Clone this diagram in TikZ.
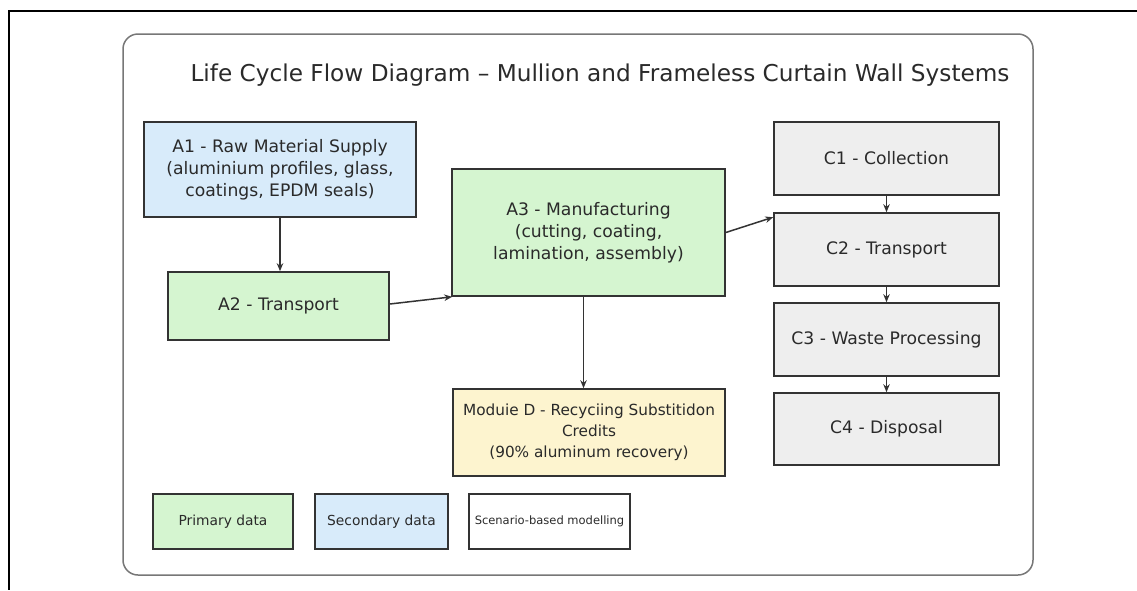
\documentclass[tikz,border=0pt]{standalone}
\usepackage{fontspec}
\setmainfont{DejaVu Sans}
\usetikzlibrary{arrows.meta}
\definecolor{pgreen}{HTML}{D5F5D0}
\definecolor{sblue}{HTML}{D8EBFA}
\definecolor{dyellow}{HTML}{FDF4CF}
\definecolor{cgray}{HTML}{EEEEEE}
\definecolor{edgec}{HTML}{333333}
\definecolor{txt}{HTML}{2A2A2A}
\definecolor{framec}{HTML}{777777}
\begin{document}
\begin{tikzpicture}[x=1pt,y=-1pt,
  box/.style={draw=edgec, line width=1.6pt, rectangle, align=center, inner sep=0pt, text=txt, font=\fontsize{17.2}{22}\selectfont},
  legbox/.style={box, font=\fontsize{13.8}{16}\selectfont},
  arr/.style={draw=edgec, line width=1.5pt, -{Stealth[length=8pt,width=6.5pt]}},
]
\useasboundingbox (0,0) rectangle (1137,590);
\fill[white] (0,0) rectangle (1137,590);
% outer cropped frame
\draw[line width=1.4pt, black] (8,11) -- (1137,11);
\draw[line width=1.4pt, black] (9,11) -- (9,590);
% rounded frame
\draw[framec, line width=1.5pt, rounded corners=15pt] (123,34) rectangle (1033,575);
\node[text=txt, font=\fontsize{23.2}{26}\selectfont, anchor=center] (title) at (600,75) {Life Cycle Flow Diagram -- Mullion and Frameless Curtain Wall Systems};

\node[box, fill=sblue, minimum width=272, minimum height=95] (A1) at (280,169.5) {A1 - Raw Material Supply\\(aluminium profiles, glass,\\coatings, EPDM seals)};
\node[box, fill=pgreen, minimum width=221, minimum height=68] (A2) at (278.5,306) {A2 - Transport};
\node[box, fill=pgreen, minimum width=273, minimum height=127] (A3) at (588.5,232.5) {A3 - Manufacturing\\(cutting, coating,\\lamination, assembly)};
\node[box, fill=dyellow, minimum width=272, minimum height=87, font=\fontsize{15.3}{21}\selectfont] (D) at (589,432.5) {Moduie D - Recyciing Substitidon\\Credits\\(90\% aluminum recovery)};

\node[box, fill=cgray, minimum width=225, minimum height=73] (C1) at (886.5,158.5) {C1 - Collection};
\node[box, fill=cgray, minimum width=225, minimum height=73] (C2) at (886.5,249.5) {C2 - Transport};
\node[box, fill=cgray, minimum width=225, minimum height=73] (C3) at (886.5,339.5) {C3 - Waste Processing};
\node[box, fill=cgray, minimum width=225, minimum height=72] (C4) at (886.5,429) {C4 - Disposal};

\node[legbox, fill=pgreen, minimum width=140, minimum height=55] (L1) at (223,521.5) {Primary data};
\node[legbox, fill=sblue, minimum width=133, minimum height=55] (L2) at (381.5,521.5) {Secondary data};
\node[legbox, fill=white, minimum width=161, minimum height=55, font=\fontsize{11.5}{14}\selectfont] (L3) at (549.5,521.5) {Scenario-based modelling};

\draw[arr] (A1.south) -- (A1.south |- A2.north);
\draw[arr] ([yshift=2pt]A2.east) -- ([xshift=1pt]A3.south west);
\draw[arr] (A3.east) -- ([yshift=-5pt]C2.north west);
\draw[arr] ([xshift=-5pt]A3.south) -- ([xshift=-5pt]A3.south |- D.north);
\draw[arr] (C1.south) -- (C2.north);
\draw[arr] (C2.south) -- (C3.north);
\draw[arr] (C3.south) -- (C4.north);
\end{tikzpicture}
\end{document}
